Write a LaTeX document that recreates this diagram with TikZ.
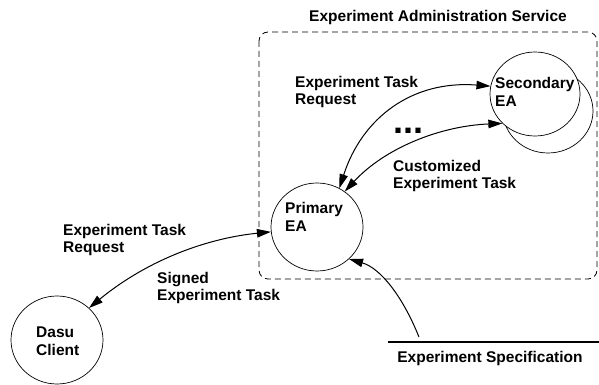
\documentclass[tikz,border=0pt]{standalone}
\usepackage{fontspec}
\setmainfont{Liberation Sans}
\usetikzlibrary{arrows.meta,shapes.geometric}
\begin{document}
\begin{tikzpicture}[x=1pt,y=-1pt,
  font=\bfseries\fontsize{15.5}{17.5}\selectfont,
  lbl/.style={anchor=west,align=left,inner sep=0pt},
  agent/.style={draw,ellipse,line width=0.7pt,minimum width=92pt,minimum height=88pt,inner sep=0pt},
  tip/.style={Triangle[length=14pt,width=8.5pt]},
  link/.style={line width=1pt,{Triangle[length=14pt,width=8.5pt]}-{Triangle[length=14pt,width=8.5pt]}},
  feed/.style={line width=1pt,-{Triangle[length=14pt,width=8.5pt]}}]
\useasboundingbox (0,0) rectangle (599,385);

% service boundary
\draw[dashed,dash pattern=on 6pt off 4pt,line width=0.8pt,rounded corners=9pt] (259,32) rectangle (597,279);
\node (title) at (438,17) {Experiment Administration Service};

% agents
\node[agent,minimum width=90pt,minimum height=84pt] (sec2) at (548,111) {};
\node[agent,fill=white,minimum width=90pt,minimum height=84pt] (sec) at (535,94) {};
\node[lbl] (secA) at (495,92) {Secondary\\EA};
\node[agent] (prim) at (317,227) {};
\node[lbl] (primA) at (285,217) {Primary\\EA};
\node[agent] (dasu) at (57,340) {};
\node[lbl] (dasuA) at (36,341) {Dasu\\Client};

% specification source
\coordinate (specL) at (388,342);
\coordinate (specR) at (599,342);
\draw[line width=1.2pt] (specL) -- (specR);
\node (spec) at (490,358) {Experiment Specification};
\coordinate (specS) at (419,337);

% connectors
\draw[link] (prim.60) .. controls (362,118) and (412,80) .. (sec.170);
\draw[link] (prim.52) .. controls (385,148) and (440,126) .. (sec.222);
\draw[link] (dasu.45) .. controls (150,258) and (210,238) .. (prim.186);
\draw[feed] (specS) .. controls (402,295) and (380,268) .. (prim.-45);

% labels
\node[lbl] (l1) at (295,92) {Experiment Task\\Request};
\node[lbl] (l2) at (393,176) {Customized\\Experiment Task};
\node[lbl,font=\bfseries\fontsize{36}{36}\selectfont] (dots) at (393,131) {...};
\node[lbl] (l3) at (63,240) {Experiment Task\\Request};
\node[lbl] (l4) at (157,288) {Signed\\Experiment Task};
\end{tikzpicture}
\end{document}
